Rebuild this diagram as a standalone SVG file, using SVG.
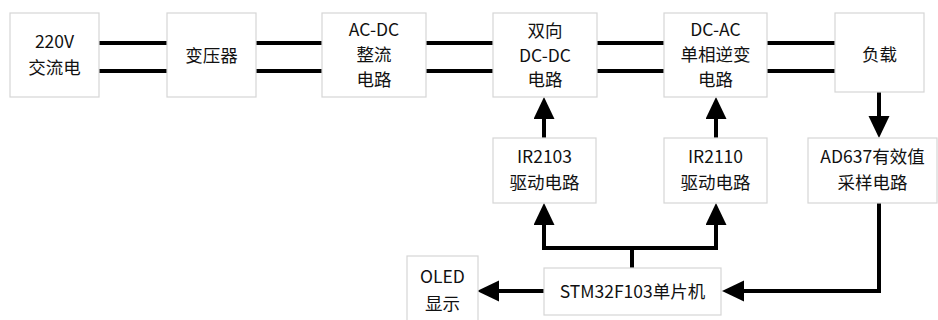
<svg xmlns="http://www.w3.org/2000/svg" width="938" height="320" viewBox="0 0 938 320">
<defs>
<marker id="ah" markerUnits="userSpaceOnUse" markerWidth="23" markerHeight="22" refX="0" refY="10.5" orient="auto" viewBox="0 0 23 22">
<path d="M0,0 L22,10.5 L0,21 z" fill="#000"/>
</marker>
<style>
.box{fill:#fff;stroke:#d6d6d6;stroke-width:1.2}
.t{font-family:"Noto Sans CJK SC","Noto Sans",sans-serif;font-size:17.5px;fill:#111;text-anchor:middle}
.w{fill:none;stroke:#000;stroke-width:4}
.a{fill:none;stroke:#000;stroke-width:4;marker-end:url(#ah)}
</style>
</defs>
<rect width="938" height="320" fill="#fff"/>
<g id="connectors">
<path class="w" d="M98,43H167M98,71H167"/>
<path class="w" d="M255,43H323M255,71H323"/>
<path class="w" d="M425,43H494M425,71H494"/>
<path class="w" d="M596,43H665M596,71H665"/>
<path class="w" d="M766,43H836M766,71H836"/>
<path class="a" d="M879,92V116"/>
<path class="a" d="M544,138V119"/>
<path class="a" d="M716,138V119"/>
<path class="w" d="M632,268V248"/>
<path class="a" d="M632,248H544V225"/>
<path class="a" d="M632,248H716V225"/>
<path class="a" d="M879,203V291H744"/>
<path class="a" d="M544,291H499"/>
</g>
<g id="n1"><rect class="box" x="10" y="13" width="89" height="84"/><text class="t" x="54.5" y="48">220V</text><text class="t" x="54.5" y="74">交流电</text></g>
<g id="n2"><rect class="box" x="167" y="13" width="89" height="84"/><text class="t" x="211.5" y="62">变压器</text></g>
<g id="n3"><rect class="box" x="322" y="13" width="104" height="84"/><text class="t" x="374" y="36">AC-DC</text><text class="t" x="374" y="61">整流</text><text class="t" x="374" y="86">电路</text></g>
<g id="n4"><rect class="box" x="493" y="13" width="104" height="84"/><text class="t" x="545" y="37">双向</text><text class="t" x="545" y="62">DC-DC</text><text class="t" x="545" y="86">电路</text></g>
<g id="n5"><rect class="box" x="664" y="13" width="103" height="84"/><text class="t" x="715.5" y="36">DC-AC</text><text class="t" x="715.5" y="61">单相逆变</text><text class="t" x="715.5" y="86">电路</text></g>
<g id="n6"><rect class="box" x="835" y="13" width="89" height="79"/><text class="t" x="879.5" y="61">负载</text></g>
<g id="n7"><rect class="box" x="493" y="138" width="103" height="65"/><text class="t" x="544.5" y="163">IR2103</text><text class="t" x="544.5" y="189">驱动电路</text></g>
<g id="n8"><rect class="box" x="664" y="138" width="103" height="65"/><text class="t" x="715.5" y="163">IR2110</text><text class="t" x="715.5" y="189">驱动电路</text></g>
<g id="n9"><rect class="box" x="808" y="138" width="129" height="65"/><text class="t" x="872.5" y="163">AD637有效值</text><text class="t" x="872.5" y="189">采样电路</text></g>
<g id="n10"><rect class="box" x="544" y="268" width="177" height="47"/><text class="t" x="632.5" y="298">STM32F103单片机</text></g>
<g id="n11"><rect class="box" x="407" y="256" width="71" height="70"/><text class="t" x="442.5" y="283">OLED</text><text class="t" x="442.5" y="310">显示</text></g>
</svg>
